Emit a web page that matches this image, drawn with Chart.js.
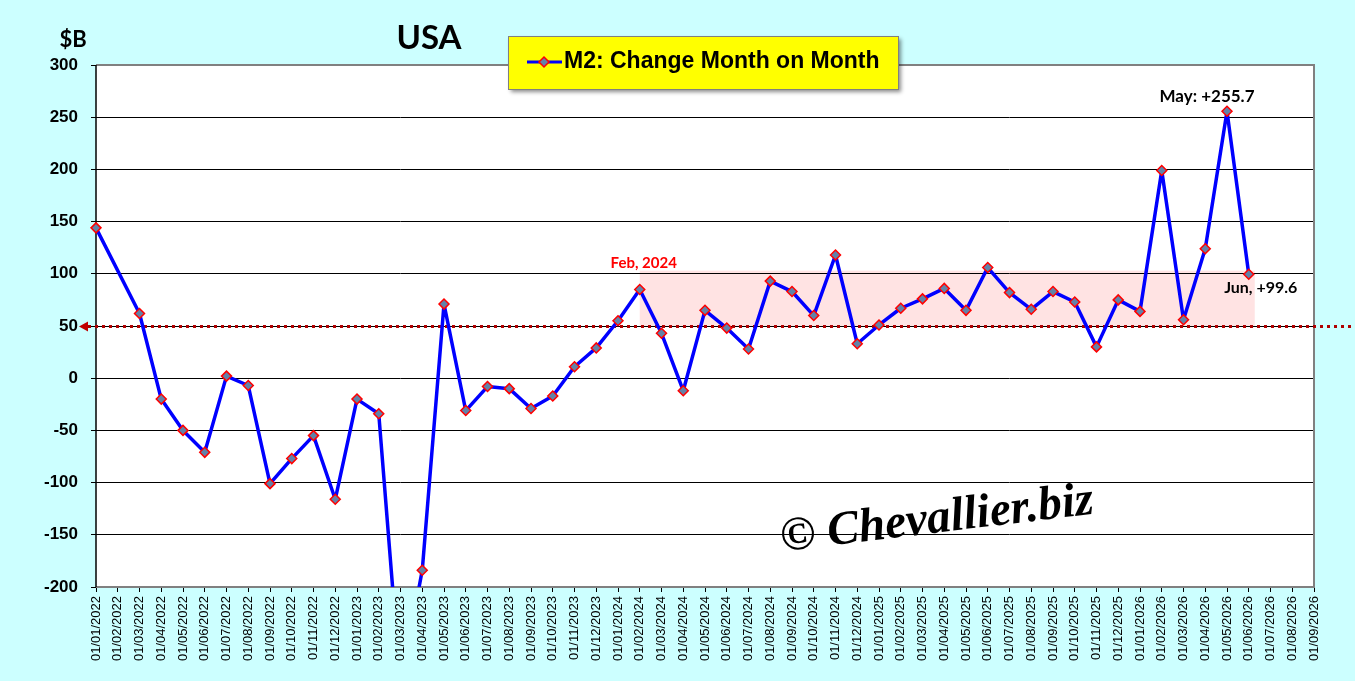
<!DOCTYPE html>
<html>
<head>
<meta charset="utf-8">
<script src="https://cdn.jsdelivr.net/npm/chart.js@4.4.1/dist/chart.umd.min.js"></script>
<style>
  body { margin: 0; background: #ccffff; }
  canvas { display: block; }
</style>
</head>
<body>
<canvas id="m2Chart" width="1355" height="681"></canvas>
<script>
// Data
var months = [
  '01/01/2022','01/02/2022','01/03/2022','01/04/2022','01/05/2022','01/06/2022',
  '01/07/2022','01/08/2022','01/09/2022','01/10/2022','01/11/2022','01/12/2022',
  '01/01/2023','01/02/2023','01/03/2023','01/04/2023','01/05/2023','01/06/2023',
  '01/07/2023','01/08/2023','01/09/2023','01/10/2023','01/11/2023','01/12/2023',
  '01/01/2024','01/02/2024','01/03/2024','01/04/2024','01/05/2024','01/06/2024',
  '01/07/2024','01/08/2024','01/09/2024','01/10/2024','01/11/2024','01/12/2024',
  '01/01/2025','01/02/2025','01/03/2025','01/04/2025','01/05/2025','01/06/2025',
  '01/07/2025','01/08/2025','01/09/2025','01/10/2025','01/11/2025','01/12/2025',
  '01/01/2026','01/02/2026','01/03/2026','01/04/2026','01/05/2026','01/06/2026',
  '01/07/2026','01/08/2026','01/09/2026'
]
var m2Change = [
  144, null, 62, -20, -50, -71, 2, -7, -101, -77, -55, -116,
  -20, -34, -295, -184, 71, -31, -8, -10, -29, -17, 11, 29,
  55, 85, 43, -12, 65, 48, 28, 93, 83, 60, 118, 33,
  51, 67, 76, 86, 65, 106, 82, 66, 83, 73, 30, 75,
  64, 199, 56, 124, 255.7, 99.6
]
var yMin = -200, yMax = 300, yStep = 50
var threshold = 50
var bandStart = '01/02/2024', bandEnd = '01/06/2026', bandTop = 103
var notes = [
  { month: '01/02/2024', text: 'Feb, 2024', color: '#ff0000' },
  { month: '01/05/2026', text: 'May: +255.7', color: '#000000' },
  { month: '01/06/2026', text: 'Jun, +99.6', color: '#000000' }
]

// Drawing extras: background, band, 50 line, labels, legend, watermark
var extras = {
  id: 'extras',
  beforeDraw: function(chart) {
    var ctx = chart.ctx, a = chart.chartArea
    var x = chart.scales.x, y = chart.scales.y
    ctx.save()
    ctx.fillStyle = '#ccffff'
    ctx.fillRect(0, 0, chart.width, chart.height)
    ctx.fillStyle = '#ffffff'
    ctx.fillRect(a.left, a.top, a.right - a.left, a.bottom - a.top)
    // band
    var x1 = x.getPixelForValue(months.indexOf(bandStart))
    var x2 = x.getPixelForValue(months.indexOf(bandEnd)) + 6
    var yt = y.getPixelForValue(bandTop), yb = y.getPixelForValue(threshold)
    ctx.fillStyle = '#ffe3e3'
    ctx.fillRect(x1, yt, x2 - x1, yb - yt)
    ctx.restore()
  },
  beforeDatasetsDraw: function(chart) {
    var ctx = chart.ctx, a = chart.chartArea
    var y = chart.scales.y
    var yy = Math.round(y.getPixelForValue(threshold)) + 0.5
    ctx.save()
    // plot frame
    ctx.strokeStyle = '#808080'
    ctx.lineWidth = 2
    ctx.beginPath()
    ctx.moveTo(a.left, a.top); ctx.lineTo(a.right, a.top)
    ctx.lineTo(a.right, a.bottom); ctx.lineTo(a.left, a.bottom)
    ctx.stroke()
    ctx.strokeStyle = '#000000'
    ctx.lineWidth = 1.5
    ctx.beginPath()
    ctx.moveTo(a.left, a.top); ctx.lineTo(a.left, a.bottom)
    ctx.stroke()
    // dotted 50 line with arrow
    ctx.strokeStyle = '#b00000'
    ctx.lineWidth = 3
    ctx.setLineDash([3, 4])
    ctx.beginPath()
    ctx.moveTo(a.left - 8, yy); ctx.lineTo(chart.width, yy)
    ctx.stroke()
    ctx.setLineDash([])
    ctx.fillStyle = '#c00000'
    ctx.beginPath()
    ctx.moveTo(a.left - 17, yy)
    ctx.lineTo(a.left - 8, yy - 5)
    ctx.lineTo(a.left - 8, yy + 5)
    ctx.closePath()
    ctx.fill()
    ctx.restore()
  },
  afterDatasetsDraw: function(chart) {
    var ctx = chart.ctx
    var meta = chart.getDatasetMeta(0)
    var y = chart.scales.y
    ctx.save()
    ctx.textBaseline = 'middle'
    ctx.textAlign = 'center'
    notes.forEach(function(n, i) {
      var p = meta.data[months.indexOf(n.month)]
      ctx.fillStyle = n.color
      if (i === 0) {
        ctx.font = 'bold 15px Lato'
        ctx.fillText(n.text, p.x + 4, y.getPixelForValue(bandTop) - 8)
      } else if (i === 1) {
        ctx.font = 'bold 17px Lato'
        ctx.fillText(n.text, p.x - 20, p.y - 15)
      } else {
        ctx.font = 'bold 16px Lato'
        ctx.fillText(n.text, p.x + 12, p.y + 14)
      }
    })

    // titles
    ctx.fillStyle = '#000000'
    ctx.font = 'bold 33px Lato'
    ctx.fillText('USA', 429, 38)
    ctx.font = 'bold 22px Lato'
    ctx.fillText('$B', 73, 40)

    // legend box
    ctx.shadowColor = 'rgba(0,0,0,0.45)'
    ctx.shadowBlur = 4
    ctx.shadowOffsetX = 3
    ctx.shadowOffsetY = 3
    ctx.fillStyle = '#ffff00'
    ctx.fillRect(508, 36, 390, 53)
    ctx.shadowColor = 'transparent'
    ctx.strokeStyle = '#808080'
    ctx.lineWidth = 1
    ctx.strokeRect(508.5, 36.5, 390, 53)
    var ds = chart.data.datasets[0]
    ctx.strokeStyle = ds.borderColor
    ctx.lineWidth = 3
    ctx.beginPath()
    ctx.moveTo(527, 62); ctx.lineTo(562, 62)
    ctx.stroke()
    ctx.fillStyle = ds.pointBackgroundColor
    ctx.strokeStyle = ds.pointBorderColor
    ctx.lineWidth = 1.5
    ctx.beginPath()
    ctx.moveTo(544, 57); ctx.lineTo(549, 62); ctx.lineTo(544, 67); ctx.lineTo(539, 62)
    ctx.closePath()
    ctx.fill(); ctx.stroke()
    ctx.fillStyle = '#000000'
    ctx.textAlign = 'left'
    ctx.font = 'bold 23px "Liberation Sans"'
    ctx.fillText(ds.label, 564, 62)

    // watermark
    ctx.translate(937, 520)
    ctx.rotate(-0.12)
    ctx.font = 'italic bold 48px "Liberation Serif"'
    var w = ctx.measureText('© Chevallier.biz').width
    ctx.scale(315 / w, 1)
    ctx.textAlign = 'center'
    ctx.fillStyle = '#000000'
    ctx.fillText('© Chevallier.biz', 0, 0)
    ctx.restore()
  }
}

var ctx = document.getElementById('m2Chart').getContext('2d')
var lineChart = new Chart(ctx, {
  type: 'line',
  data: {
    labels: months,
    datasets: [{
      label: 'M2: Change Month on Month',
      data: m2Change,
      borderColor: '#0000ff',
      borderWidth: 3.5,
      borderJoinStyle: 'round',
      pointStyle: 'rectRot',
      pointRadius: 5,
      pointBackgroundColor: '#6282a8',
      pointBorderColor: '#ff0000',
      pointBorderWidth: 1.5,
      spanGaps: true,
      tension: 0
    }]
  },
  options: {
    responsive: false,
    animation: false,
    layout: { padding: { top: 65, right: 41, left: 0, bottom: 0 } },
    plugins: { legend: { display: false }, tooltip: { enabled: false } },
    scales: {
      x: {
        offset: false,
        grid: { drawOnChartArea: false, color: '#000000', tickLength: 5 },
        border: { display: false },
        ticks: {
          autoSkip: false, maxRotation: 90, minRotation: 90, padding: 4,
          color: '#000000', font: { family: 'Liberation Sans', size: 13 }
        },
        afterFit: function(s) { s.height = 94 }
      },
      y: {
        min: yMin, max: yMax,
        grid: { color: '#000000', lineWidth: 1, tickLength: 5 },
        border: { display: false },
        ticks: {
          stepSize: yStep, padding: 13, color: '#000000',
          font: { family: 'Liberation Sans', size: 17, weight: 'bold' }
        },
        afterFit: function(s) { s.width = 96 }
      }
    }
  },
  plugins: [extras]
})
</script>
</body>
</html>
